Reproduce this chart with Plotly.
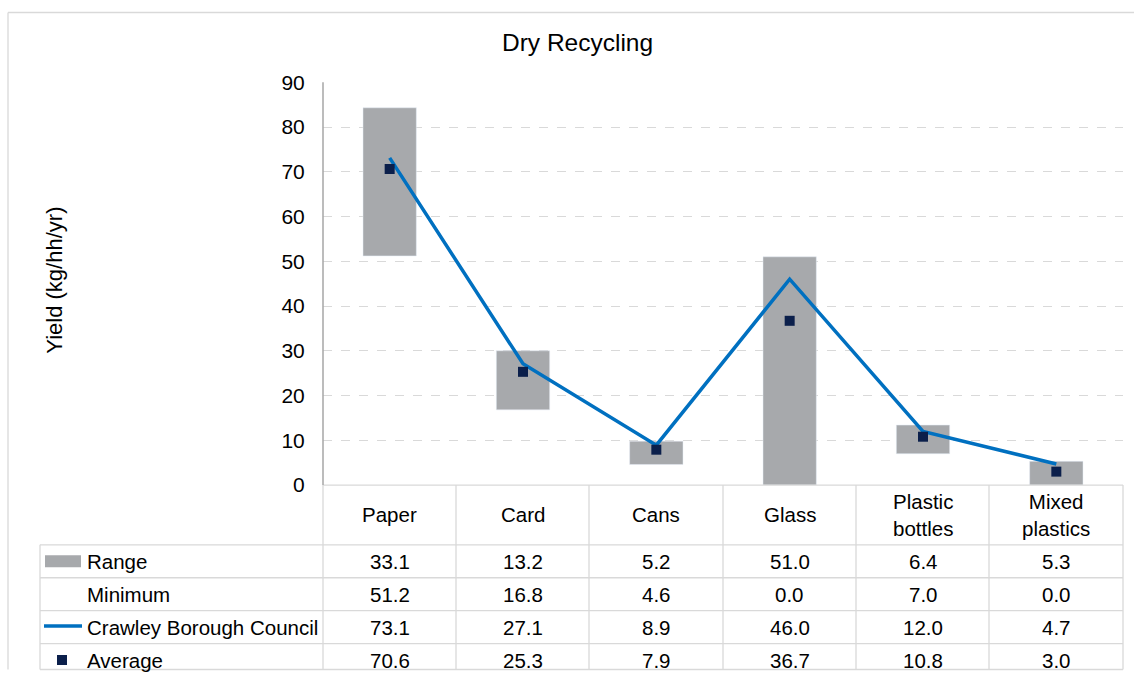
import plotly.graph_objects as go

categories = ["Paper", "Card", "Cans", "Glass", "Plastic bottles", "Mixed plastics"]
header_labels = ["Paper", "Card", "Cans", "Glass", "Plastic<br>bottles", "Mixed<br>plastics"]
range_vals = [33.1, 13.2, 5.2, 51.0, 6.4, 5.3]
minimum_vals = [51.2, 16.8, 4.6, 0.0, 7.0, 0.0]
crawley_vals = [73.1, 27.1, 8.9, 46.0, 12.0, 4.7]
average_vals = [70.6, 25.3, 7.9, 36.7, 10.8, 3.0]
y_ticks = [0, 10, 20, 30, 40, 50, 60, 70, 80, 90]

W, H = 1134, 681
FONT = "Liberation Sans, Arial, sans-serif"
GRID = "#D9D9D9"
BAR = "#A7A9AC"
LINE = "#0070C0"
NAVY = "#0B1F4B"

# the photographed page is squeezed vertically (about 660 px tall, 10 px down);
# convert target pixel rows into page rows
V_OFF, V_SCALE = 10.5, 0.9692

def px(x):
    return x / W

def py(y):
    page = (y - V_OFF) / V_SCALE
    page = min(max(page, 0.5), H - 0.5)
    return 1 - page / H

plot_l, plot_r, plot_t, plot_b = 323, 1123, 81, 485
tab_l = 40
row_lines = [545, 578, 611, 644, 677]
col_lines = [323, 456, 589, 723, 856, 989, 1123]

fig = go.Figure()
fig.add_trace(go.Bar(x=categories, y=range_vals, base=minimum_vals, marker_color=BAR,
                     width=0.4, name="Range"))
fig.add_trace(go.Scatter(x=categories, y=crawley_vals, mode="lines",
                         line=dict(color=LINE, width=3.5), name="Crawley Borough Council"))
fig.add_trace(go.Scatter(x=categories, y=average_vals, mode="markers",
                         marker=dict(symbol="square", size=10, color=NAVY), name="Average"))

shapes = []
def hline(y, x0, x1, color=GRID, w=1.3):
    shapes.append(dict(type="line", xref="paper", yref="paper", x0=px(x0), x1=px(x1),
                       y0=py(y), y1=py(y), line=dict(color=color, width=w)))
def vline(x, y0, y1, color=GRID, w=1.3):
    shapes.append(dict(type="line", xref="paper", yref="paper", x0=px(x), x1=px(x),
                       y0=py(y0), y1=py(y1), line=dict(color=color, width=w)))

# outer chart border
hline(7, 8, 1134, color="#D9D9D9", w=1.3)
vline(8, 7, 690, color="#D9D9D9", w=1.3)

# data table grid
hline(plot_b, plot_l, plot_r)
for y in row_lines:
    hline(y, tab_l, plot_r)
vline(tab_l, row_lines[0], row_lines[-1])
for x in col_lines:
    vline(x, plot_b, row_lines[-1])
# left axis line
vline(plot_l, plot_t, plot_b, color="#A6A6A6", w=1.5)

# legend keys in table
row_centers = [(row_lines[i] + row_lines[i + 1]) / 2 for i in range(4)]
shapes.append(dict(type="rect", xref="paper", yref="paper", x0=px(45), x1=px(81),
                   y0=py(row_centers[0] - 6), y1=py(row_centers[0] + 6),
                   fillcolor=BAR, line=dict(width=0)))
shapes.append(dict(type="line", xref="paper", yref="paper", x0=px(44), x1=px(82),
                   y0=py(row_centers[2] - 1), y1=py(row_centers[2] - 1),
                   line=dict(color=LINE, width=3.5)))
shapes.append(dict(type="rect", xref="paper", yref="paper", x0=px(57), x1=px(67),
                   y0=py(row_centers[3] - 5), y1=py(row_centers[3] + 5),
                   fillcolor=NAVY, line=dict(width=0)))

annotations = []
def ann(text, x, y, xref="paper", size=20.5, xanchor="center", **kw):
    annotations.append(dict(text=text, xref=xref, yref="paper", x=x, y=y, showarrow=False,
                            xanchor=xanchor, yanchor="middle",
                            font=dict(size=size, color="#000", family=FONT), **kw))

ann("Dry Recycling", px(577), py(41), size=24.5)
ann("Yield (kg/hh/yr)", px(55), py(280), size=22, textangle=-90)

for cat, lab in zip(categories, header_labels):
    ann(lab, cat, py(515), xref="x")

row_names = ["Range", "Minimum", "Crawley Borough Council", "Average"]
row_vals = [range_vals, minimum_vals, crawley_vals, average_vals]
for name, yc, vals in zip(row_names, row_centers, row_vals):
    ann(name, px(85), py(yc), xanchor="left")
    for cat, v in zip(categories, vals):
        ann(f"{v:.1f}", cat, py(yc), xref="x")

fig.update_layout(
    width=W, height=H, margin=dict(l=0, r=0, t=0, b=0, pad=0), autosize=False,
    paper_bgcolor="white", plot_bgcolor="white",
    showlegend=False, shapes=shapes, annotations=annotations,
    xaxis=dict(domain=[px(plot_l), px(plot_r)], showticklabels=False, showgrid=False,
               zeroline=False, showline=False, ticks=""),
    yaxis=dict(domain=[py(plot_b), py(plot_t)], range=[0, 90], tickvals=y_ticks,
               showgrid=True, gridcolor=GRID, griddash="dash", gridwidth=1.3,
               zeroline=False, showline=False, ticks="outside", ticklen=0,
               ticklabelstandoff=13, tickfont=dict(size=21, color="#000", family=FONT)),
    font=dict(family=FONT),
)

post = ("document.body.style.margin='0';document.body.style.overflow='hidden';"
        "var d=document.getElementById('{plot_id}');"
        "d.style.position='absolute';d.style.left='0px';d.style.top='0px';")
fig.write_html("out.html", config={"displayModeBar": False, "responsive": False},
               post_script=post)
